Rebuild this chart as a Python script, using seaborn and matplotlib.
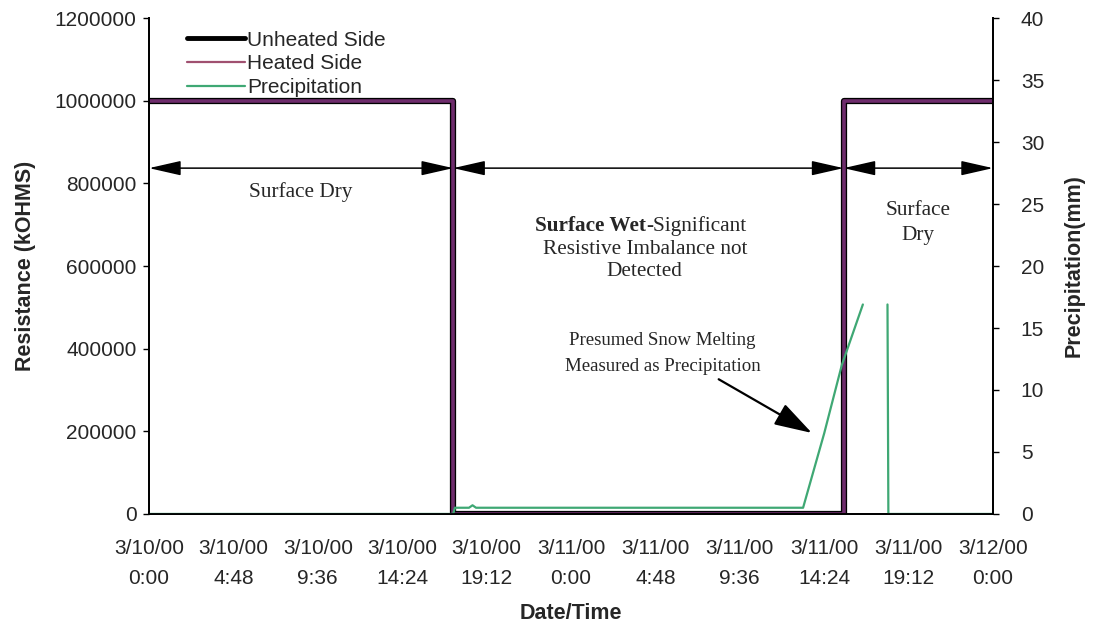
import numpy as np
import pandas as pd
import matplotlib
matplotlib.use("Agg")
import matplotlib.pyplot as plt
import seaborn as sns

# Time axis in hours from 3/10/00 0:00
tick_hours = [0, 4.8, 9.6, 14.4, 19.2, 24, 28.8, 33.6, 38.4, 43.2, 48]
tick_labels = ["3/10/00\n0:00", "3/10/00\n4:48", "3/10/00\n9:36", "3/10/00\n14:24",
               "3/10/00\n19:12", "3/11/00\n0:00", "3/11/00\n4:48", "3/11/00\n9:36",
               "3/11/00\n14:24", "3/11/00\n19:12", "3/12/00\n0:00"]

# Resistance (kOHMS) — both sensors step from open (dry) to short (wet) and back
res_hours = [0, 17.3, 17.3, 39.5, 39.5, 48]
unheated_res = [1000000, 1000000, 0, 0, 1000000, 1000000]
heated_res = [1000000, 1000000, 0, 0, 1000000, 1000000]

# Precipitation (mm), two recorded segments
precip_hours = [0, 17.3, 17.4, 18.2, 18.4, 18.6, 30.0, 37.2, 38.4, 39.4, 40.6,
                42.0, 42.05, 48]
precip_mm = [0, 0, 0.5, 0.5, 0.7, 0.5, 0.5, 0.5, 6.5, 12.0, 16.9,
             16.9, 0, 0]
precip_seg = [0, 0, 0, 0, 0, 0, 0, 0, 0, 0, 0, 1, 1, 1]

res_df = pd.DataFrame({"hours": res_hours, "unheated": unheated_res, "heated": heated_res})
pr_df = pd.DataFrame({"hours": precip_hours, "mm": precip_mm, "seg": precip_seg})

sns.set_theme(style="white")
plt.rcParams["font.family"] = ["Liberation Sans", "DejaVu Sans"]

fig, ax = plt.subplots(figsize=(10.93, 6.26), dpi=100)
fig.subplots_adjust(left=0.1363, right=0.9085, top=0.971, bottom=0.179)

sns.lineplot(data=res_df, x="hours", y="unheated", ax=ax, color="black", lw=4.5,
             estimator=None, sort=False, label="Unheated Side")
sns.lineplot(data=res_df, x="hours", y="heated", ax=ax, color="#6e2c6c", lw=2.6,
             estimator=None, sort=False, label="Heated Side")

ax2 = ax.twinx()
sns.lineplot(data=pr_df, x="hours", y="mm", units="seg", estimator=None, sort=False,
             ax=ax2, color="#3fa874", lw=1.6, label="Precipitation")

ax.set_xlim(0, 48)
ax.set_ylim(0, 1200000)
ax2.set_ylim(0, 40)
ax.set_xticks(tick_hours)
ax.set_xticklabels(tick_labels, linespacing=1.75)
ax.set_yticks(np.arange(0, 1200001, 200000))
ax.set_yticklabels([str(v) for v in range(0, 1200001, 200000)])
ax2.set_yticks(np.arange(0, 41, 5))

for a in (ax, ax2):
    a.spines["top"].set_visible(False)
    for s in ("left", "right", "bottom"):
        a.spines[s].set_color("black")
        a.spines[s].set_linewidth(1.3)
ax.tick_params(axis="x", direction="out", length=5, width=1, color="black",
               labelsize=15, pad=13)
ax.tick_params(axis="y", direction="out", length=4, width=1, color="black",
               labelsize=15, pad=5)
ax2.tick_params(axis="y", direction="out", length=4, width=1, color="black",
                labelsize=15, pad=16)

ax.set_xlabel("Date/Time", fontsize=15.5, fontweight="bold", labelpad=11)
ax.set_ylabel("Resistance (kOHMS)", fontsize=15.5, fontweight="bold", labelpad=13)
ax2.set_ylabel("Precipitation(mm)", fontsize=15.5, fontweight="bold", labelpad=14)

# Legend combining both axes
h1, l1 = ax.get_legend_handles_labels()
h2, l2 = ax2.get_legend_handles_labels()
ax.get_legend().remove()
ax2.get_legend().remove()
leg = ax2.legend(h1[:2] + h2[:1], l1[:2] + l2[:1], loc="upper left",
                 bbox_to_anchor=(0.03, 1.0), frameon=False, fontsize=15,
                 handlelength=2.8, handletextpad=0.1, labelspacing=0.22,
                 borderaxespad=0.2)
leg_lines = leg.get_lines()
leg_lines[0].set_linewidth(3.5)
leg_lines[1].set_linewidth(1.6)
leg_lines[1].set_color("#a05070")
leg_lines[2].set_linewidth(1.6)

# Surface-condition spans
serif = ["Liberation Serif", "DejaVu Serif"]
span_y = 837000
arrow_kw = dict(arrowstyle="<|-|>,head_length=1.1,head_width=0.25", color="black",
                lw=1.1, shrinkA=0, shrinkB=0, mutation_scale=18)
for x0, x1 in [(0, 17.3), (17.3, 39.5), (39.5, 48)]:
    ax.annotate("", xy=(x1, span_y), xytext=(x0, span_y), arrowprops=arrow_kw)

ts = 15.3
ax.text(8.6, 779000, "Surface Dry", family=serif, fontsize=ts, ha="center", va="center")
ax.text(28.26, 697000, "Surface Wet", family=serif, fontsize=ts, fontweight="bold",
        ha="right", va="center")
ax.text(28.26, 697000, "-Significant", family=serif, fontsize=ts, ha="left", va="center")
ax.text(28.2, 641000, "Resistive Imbalance not", family=serif, fontsize=ts,
        ha="center", va="center")
ax.text(28.2, 588000, "Detected", family=serif, fontsize=ts, ha="center", va="center")
ax.text(43.74, 735000, "Surface", family=serif, fontsize=ts, ha="center", va="center")
ax.text(43.74, 673000, "Dry", family=serif, fontsize=ts, ha="center", va="center")
ax.text(29.2, 421000, "Presumed Snow Melting", family=serif, fontsize=13.6,
        ha="center", va="center")
ax.text(29.2, 358000, "Measured as Precipitation", family=serif, fontsize=13.6,
        ha="center", va="center")
ax.annotate("", xy=(37.7, 196000), xytext=(32.4, 326000),
            arrowprops=dict(arrowstyle="-|>,head_length=1.3,head_width=0.4",
                            color="black", lw=1.6, shrinkA=0, shrinkB=0,
                            mutation_scale=18))

fig.savefig("out.png", dpi=100, facecolor="white")
